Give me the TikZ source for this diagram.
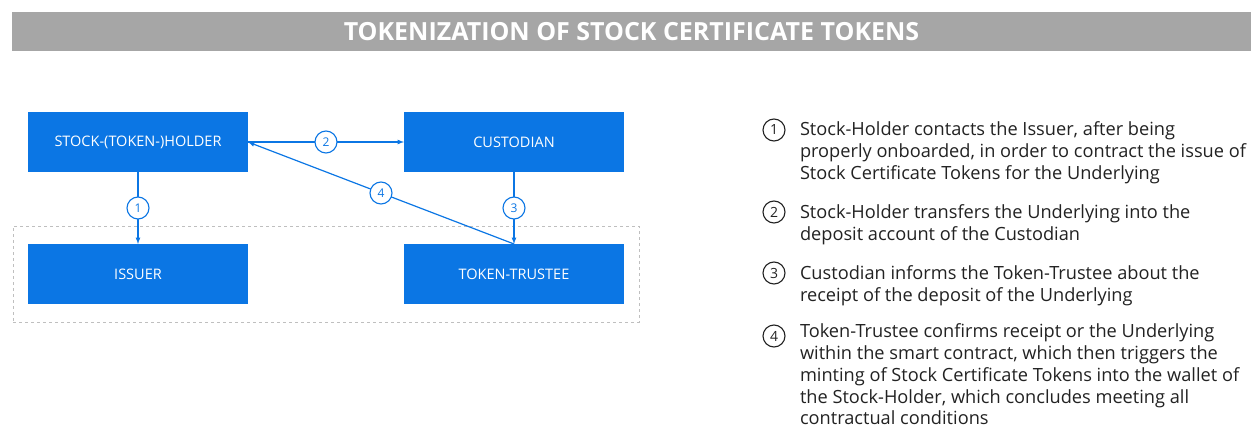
\documentclass[tikz,border=0pt]{standalone}
\usepackage{fontspec}
\setmainfont{Open Sans}
\usetikzlibrary{positioning,arrows,fit}

\definecolor{boxblue}{HTML}{0B76E4}
\definecolor{bargray}{HTML}{A6A6A6}
\definecolor{textdark}{HTML}{222222}

\begin{document}
\begin{tikzpicture}[x=1pt,y=-1pt,
      every node/.style={inner sep=0pt,outer sep=0pt},
      party/.style={rectangle,fill=boxblue,text=white,
                    minimum width=220pt,minimum height=60pt,
                    font=\fontsize{14.5}{16}\selectfont},
      num/.style={circle,draw=boxblue,fill=white,text=boxblue,
                  line width=1.1pt,minimum size=22pt,
                  font=\fontsize{12}{14}\selectfont},
      legnum/.style={circle,draw=textdark,text=textdark,
                     line width=1.1pt,minimum size=22pt,
                     font=\fontsize{14}{16}\selectfont},
      legtext/.style={anchor=north west,align=left,text=textdark,
                      font=\fontsize{18.2}{21.7}\selectfont},
      frame/.style={draw=black!25,dashed,line width=0.8pt},
      single/.style={draw=boxblue,line width=1.2pt,-latex},
    ]
      \useasboundingbox (0,0) rectangle (1251,428);
      \node[fill=bargray,minimum width=1239pt,minimum height=39pt,
            text=white,font=\bfseries\fontsize{25}{26}\selectfont]
            (title) at (631.5,31.5) {TOKENIZATION OF STOCK CERTIFICATE TOKENS};

      % parties
      \node[party] (holder) at (138,142) {STOCK-(TOKEN-)HOLDER};
      \node[party, right=156pt of holder] (custodian) {CUSTODIAN};
      \node[party, below=72pt of holder] (issuer) {ISSUER};
      \node[party, below=72pt of custodian] (trustee) {TOKEN-TRUSTEE};
      \node[frame, fit=(issuer)(trustee), inner xsep=15pt, inner ysep=18pt] (group) {};

      % steps
      \path (holder) edge[single] node[num] {1} (issuer);
      \path (holder) edge[single] node[num] {2} (custodian);
      \path (custodian) edge[single] node[num] {3} (trustee);
      \path (trustee.north) edge[single] node[num] {4} (holder.east);

      % legend
      \node[legnum] (n1) at (774,130) {1};
      \node[legnum] (n2) at (774,212) {2};
      \node[legnum] (n3) at (774,273) {3};
      \node[legnum] (n4) at (774,336) {4};
      \node[legtext] (t1) at (800,122) {Stock-Holder contacts the Issuer, after being\\
        properly onboarded, in order to contract the issue of\\
        Stock Certificate Tokens for the Underlying};
      \node[legtext] (t2) at (800,205) {Stock-Holder transfers the Underlying into the\\
        deposit account of the Custodian};
      \node[legtext] (t3) at (800,266) {Custodian informs the Token-Trustee about the\\
        receipt of the deposit of the Underlying};
      \node[legtext] (t4) at (800,324) {Token-Trustee confirms receipt or the Underlying\\
        within the smart contract, which then triggers the\\
        minting of Stock Certificate Tokens into the wallet of\\
        the Stock-Holder, which concludes meeting all\\
        contractual conditions};
    \end{tikzpicture}
\end{document}
